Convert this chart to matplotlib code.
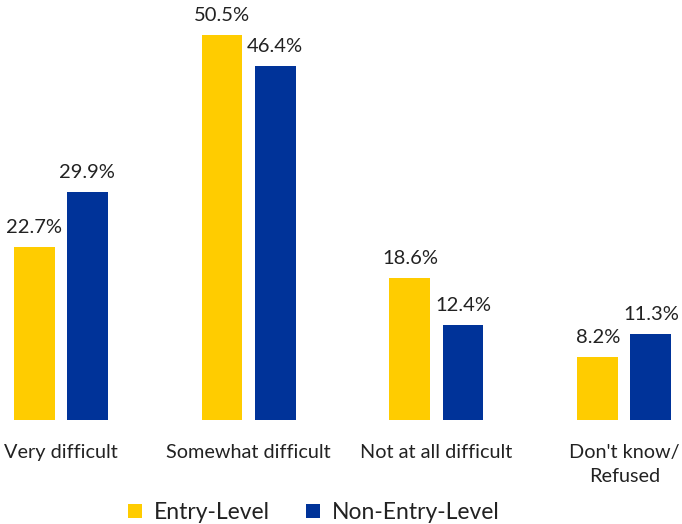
import numpy as np
import matplotlib.pyplot as plt

plt.rcParams["font.family"] = ["Lato", "DejaVu Sans"]

categorias = ["Very difficult", "Somewhat difficult", "Not at all difficult", "Don't know/\nRefused"]
entry = [22.7, 50.5, 18.6, 8.2]
non_entry = [29.9, 46.4, 12.4, 11.3]

AMARELO = "#FFCC00"
AZUL = "#003399"

fig = plt.figure(figsize=(6.82, 5.24), dpi=100)
ax = fig.add_axes([0, 0.1985, 1, 0.8015])

x = np.arange(len(categorias))
larg = 0.218
desl = 0.141

b1 = ax.bar(x - desl, entry, width=larg, color=AMARELO, label="Entry-Level")
b2 = ax.bar(x + desl, non_entry, width=larg, color=AZUL, label="Non-Entry-Level")

for barras, vals in [(b1, entry), (b2, non_entry)]:
    for b, v in zip(barras, vals):
        ax.annotate(
            f"{v:.1f}%",
            (b.get_x() + b.get_width() / 2, v),
            xytext=(0, 8),
            textcoords="offset points",
            ha="center",
            va="bottom",
            fontsize=14.5,
            color="#222222"
        )

for xi, c in zip(x, categorias):
    ax.annotate(
        c,
        (xi, 0),
        xytext=(0, -17.5),
        textcoords="offset points",
        ha="center",
        va="top",
        fontsize=14.3,
        color="#222222",
        linespacing=1.5
    )

ax.set_xlim(-0.322, 3.306)
ax.set_ylim(0, 55.1)
ax.axis("off")

fig.legend(
    handles=[b1, b2],
    loc="center",
    bbox_to_anchor=(0.46, 0.022),
    ncol=2,
    frameon=False,
    fontsize=16.5,
    handlelength=0.6,
    handleheight=0.6,
    handletextpad=0.5,
    columnspacing=1.6,
    labelcolor="#222222"
)

fig.savefig("out.png", dpi=100)
plt.close()
